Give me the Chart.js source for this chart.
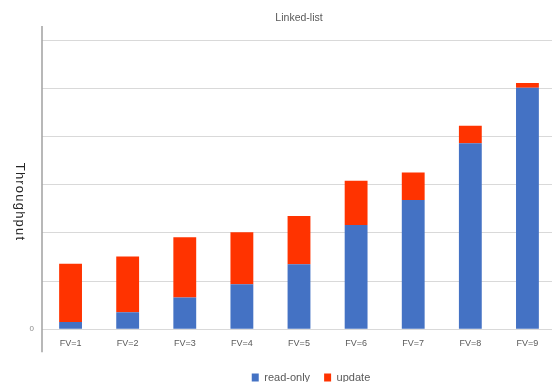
<!DOCTYPE html>
<html>
<head>
<meta charset="utf-8">
<script src="https://cdn.jsdelivr.net/npm/chart.js@4/dist/chart.umd.min.js"></script>
<style>
  html, body { margin: 0; padding: 0; background: #fff; overflow: hidden; }
  #wrap { width: 556px; height: 382px; }
</style>
</head>
<body>
<div id="wrap"><canvas id="c" width="556" height="382"></canvas></div>
<script>
// Throughput per FV setting, stacked: read-only part and update part
const categories = ['FV=1', 'FV=2', 'FV=3', 'FV=4', 'FV=5', 'FV=6', 'FV=7', 'FV=8', 'FV=9'];
const readOnly = [0.15, 0.35, 0.66, 0.93, 1.35, 2.16, 2.68, 3.86, 5.01];
const update   = [1.21, 1.16, 1.25, 1.08, 1.00, 0.92, 0.57, 0.36, 0.10];
const seriesNames = ['read-only', 'update'];
const chartTitle = 'Linked-list';
const yTitle = 'Throughput';

const FONT = "'Liberation Sans', Arial, sans-serif";

// Title, rotated axis title and the long vertical axis rule
const decorations = {
  id: 'decorations',
  afterLayout(chart) {
    // nudge the legend a little to the right of the plot centre
    const lg = chart.legend;
    if (lg) { lg.left += 12; lg.right += 12; }
  },
  afterDraw(chart) {
    const { ctx, chartArea } = chart;
    const a = chartArea;
    ctx.save();
    // title
    ctx.fillStyle = '#595959';
    ctx.font = '10.5px ' + FONT;
    ctx.textAlign = 'center';
    ctx.textBaseline = 'middle';
    ctx.fillText(chartTitle, (a.left + a.right) / 2, 18);
    // y axis title, reading top to bottom
    ctx.save();
    ctx.translate(20, 202);
    ctx.rotate(Math.PI / 2);
    ctx.fillStyle = '#262626';
    ctx.font = '13px ' + FONT;
    if ('letterSpacing' in ctx) ctx.letterSpacing = '1.2px';
    ctx.fillText(yTitle, 0, 0);
    ctx.restore();
    // vertical axis rule
    ctx.strokeStyle = '#a0a0a0';
    ctx.lineWidth = 1.5;
    ctx.beginPath();
    ctx.moveTo(a.left, a.top - 14);
    ctx.lineTo(a.left, a.bottom + 23);
    ctx.stroke();
    ctx.restore();
  }
};

new Chart(document.getElementById('c'), {
  type: 'bar',
  data: {
    labels: categories,
    datasets: [
      { label: seriesNames[0], data: readOnly, backgroundColor: '#4472C4', borderWidth: 0 },
      { label: seriesNames[1], data: update, backgroundColor: '#FF3300', borderWidth: 0 }
    ]
  },
  options: {
    responsive: false,
    animation: false,
    devicePixelRatio: 1,
    layout: { padding: { top: 40, left: 0, right: 0, bottom: -11 } },
    datasets: { bar: { barPercentage: 0.4, categoryPercentage: 1.0 } },
    scales: {
      x: {
        stacked: true,
        grid: { display: false, drawTicks: false },
        border: { display: false },
        ticks: { color: '#595959', font: { family: FONT, size: 9 }, padding: 9, maxRotation: 0 }
      },
      y: {
        stacked: true,
        min: 0,
        max: 6,
        afterFit(scale) { scale.width = 42; },
        grid: { color: '#d9d9d9', lineWidth: 1, drawTicks: false },
        border: { display: false },
        ticks: {
          stepSize: 1,
          color: '#8c8c8c',
          font: { family: FONT, size: 8 },
          padding: 8,
          callback: (v) => (v === 0 ? '0' : '')
        }
      }
    },
    plugins: {
      title: { display: false },
      tooltip: { enabled: false },
      legend: {
        position: 'bottom',
        fullSize: false,
        labels: {
          boxWidth: 7,
          boxHeight: 8,
          padding: 14,
          color: '#595959',
          font: { family: FONT, size: 11 }
        }
      }
    }
  },
  plugins: [decorations]
});
</script>
</body>
</html>
